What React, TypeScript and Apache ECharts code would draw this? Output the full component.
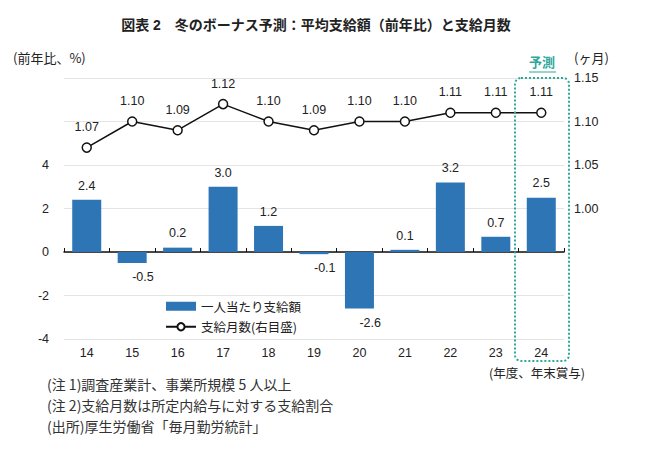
import React, { useEffect, useRef } from "react";
import * as echarts from "echarts";

const categories = ["14", "15", "16", "17", "18", "19", "20", "21", "22", "23", "24"];
const perPerson = [2.4, -0.5, 0.2, 3.0, 1.2, -0.1, -2.6, 0.1, 3.2, 0.7, 2.5];
const months = [1.07, 1.1, 1.09, 1.12, 1.1, 1.09, 1.1, 1.1, 1.11, 1.11, 1.11];
const leftTicks = [-4, -2, 0, 2, 4];
const rightTicks = [1.0, 1.05, 1.1, 1.15];
const notes = [
  "(注 1)調査産業計、事業所規模 5 人以上",
  "(注 2)支給月数は所定内給与に対する支給割合",
  "(出所)厚生労働省「毎月勤労統計」",
];

const FONT = "'Liberation Sans', Arial, 'Noto Sans CJK JP', sans-serif";
const CJK = "'Noto Sans CJK JP', 'Noto Sans', sans-serif";
const TEAL = "#2fa89a";

export default function App() {
  const ref = useRef<HTMLDivElement>(null);
  useEffect(() => {
    document.body.style.margin = "0";
    const chart = echarts.init(ref.current!, null, { renderer: "svg" });
    chart.setOption({
      animation: false,
      backgroundColor: "#fff",
      textStyle: { fontFamily: FONT },
      title: {
        text: "図表 2　冬のボーナス予測：平均支給額（前年比）と支給月数",
        left: 311,
        textAlign: "center",
        top: 13,
        textStyle: { fontSize: 14, fontWeight: "bold", color: "#222", fontFamily: FONT },
      },
      legend: {
        orient: "vertical",
        left: 160,
        top: 295,
        itemGap: 8,
        itemWidth: 30,
        itemHeight: 9,
        textStyle: { fontSize: 12.5, color: "#222", fontFamily: CJK },
        data: [
          { name: "一人当たり支給額", icon: "rect" },
          { name: "支給月数(右目盛)" },
        ],
      },
      grid: { left: 64, right: 86, top: 78, bottom: 114 },
      xAxis: [
        {
          type: "category",
          data: categories,
          axisLine: { onZero: true, onZeroAxisIndex: 0, lineStyle: { color: "#111", width: 1.5 } },
          axisTick: { show: true, inside: true, length: 4, lineStyle: { color: "#111" } },
          axisLabel: { show: false },
        },
        {
          type: "category",
          data: categories,
          position: "bottom",
          axisLine: { show: false },
          axisTick: { show: false },
          axisLabel: { fontSize: 12.5, color: "#222", margin: 8 },
        },
      ],
      yAxis: [
        {
          type: "value",
          min: -4,
          max: 8,
          interval: 2,
          axisLine: { show: false },
          axisTick: { show: false },
          splitLine: { lineStyle: { color: "#e4e4e4" } },
          axisLabel: {
            fontSize: 12.5,
            color: "#222",
            margin: 15,
            formatter: (v: number) => (leftTicks.includes(v) ? String(v) : ""),
          },
        },
        {
          type: "value",
          min: 0.85,
          max: 1.15,
          interval: 0.05,
          axisLine: { show: false },
          axisTick: { show: false },
          splitLine: { show: false },
          axisLabel: {
            fontSize: 12.5,
            color: "#222",
            margin: 10,
            formatter: (v: number) =>
              rightTicks.some((t) => Math.abs(t - v) < 1e-6) ? v.toFixed(2) : "",
          },
        },
      ],
      series: [
        {
          name: "一人当たり支給額",
          type: "bar",
          data: perPerson,
          barWidth: 29,
          itemStyle: { color: "#2e75b6" },
          label: {
            show: true,
            position: "top",
            distance: 8,
            fontSize: 12.5,
            color: "#222",
            formatter: (p: any) => p.value.toFixed(1),
          },
          labelLayout: (p: any) => {
            const v = perPerson[p.dataIndex];
            if (v < 0) {
              return { y: p.rect.y + p.rect.height + 14, verticalAlign: "middle" };
            }
            return {};
          },
          z: 2,
        },
        {
          name: "支給月数(右目盛)",
          type: "line",
          yAxisIndex: 1,
          data: months,
          symbol: "circle",
          symbolSize: 9,
          lineStyle: { color: "#111", width: 1.5 },
          itemStyle: { color: "#fff", borderColor: "#111", borderWidth: 1.5 },
          label: {
            show: true,
            position: "top",
            distance: 9,
            fontSize: 12.5,
            color: "#222",
            formatter: (p: any) => p.value.toFixed(2),
          },
          z: 3,
        },
      ],
      graphic: [
        {
          type: "text",
          left: 13,
          top: 51,
          style: { text: "(前年比、%)", fontSize: 13, fill: "#222", fontFamily: CJK },
        },
        {
          type: "text",
          left: 574,
          top: 51,
          style: { text: "(ヶ月)", fontSize: 13, fill: "#222", fontFamily: CJK },
        },
        {
          type: "text",
          left: 529,
          top: 55,
          style: {
            text: "予測",
            fontSize: 13,
            fontWeight: "bold",
            fill: TEAL,
            fontFamily: CJK,
          },
        },
        {
          type: "line",
          shape: { x1: 529, y1: 72, x2: 556, y2: 72 },
          style: { stroke: TEAL, lineWidth: 1 },
        },
        {
          type: "rect",
          shape: { x: 515, y: 78, width: 54, height: 283, r: 6 },
          style: { fill: "none", stroke: TEAL, lineWidth: 2, lineDash: [2, 2] },
          z: 10,
        },
        {
          type: "text",
          left: 489,
          top: 366,
          style: { text: "(年度、年末賞与)", fontSize: 12.5, fill: "#222", fontFamily: CJK },
        },
        ...notes.map((t, i) => ({
          type: "text",
          left: 47,
          top: 377 + i * 21,
          style: { text: t, fontSize: 14, fill: "#333", fontFamily: CJK },
        })),
      ],
    });
    return () => chart.dispose();
  }, []);
  return <div ref={ref} style={{ width: 650, height: 453 }} />;
}
